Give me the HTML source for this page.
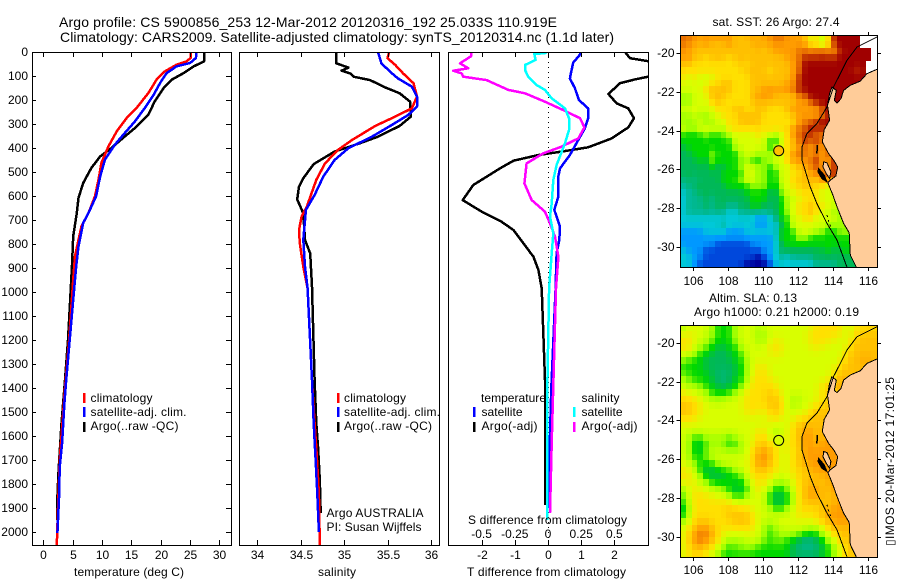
<!DOCTYPE html>
<html lang="en">
<head>
<meta charset="utf-8">
<title>Argo profile</title>
<style>
html,body{margin:0;padding:0;background:#fff;}
svg{display:block;}
text{font-family:"Liberation Sans",sans-serif;font-size:12px;fill:#000;}
.t{font-size:14px;}
</style>
</head>
<body>
<svg id="fig" xmlns="http://www.w3.org/2000/svg" width="900" height="580" viewBox="0 0 900 580">
<defs>
<clipPath id="clipT"><rect x="32" y="52" width="199" height="493"/></clipPath>
<clipPath id="clipS"><rect x="239" y="52" width="200" height="493"/></clipPath>
<clipPath id="clipD"><rect x="448" y="52" width="200" height="493"/></clipPath>
<clipPath id="clipM1"><rect x="680" y="35" width="197" height="232"/></clipPath>
<clipPath id="clipM2"><rect x="680" y="325" width="197" height="232"/></clipPath>
</defs>
<text class="t" x="59" y="27" textLength="498">Argo profile: CS 5900856_253 12-Mar-2012 20120316_192 25.033S 110.919E</text>
<text class="t" x="60" y="42" textLength="554">Climatology: CARS2009. Satellite-adjusted climatology: synTS_20120314.nc (1.1d later)</text>

<g id="marksT" clip-path="url(#clipT)"></g>
<g id="marksS" clip-path="url(#clipS)"></g>
<g id="marksD" clip-path="url(#clipD)"></g>
<g id="map1" clip-path="url(#clipM1)"></g>
<g id="map2" clip-path="url(#clipM2)"></g>
<g id="axes"></g>

<text x="74" y="576" textLength="110">temperature (deg C)</text>
<text x="318" y="576" textLength="38">salinity</text>
<text x="467" y="576" textLength="159">T difference from climatology</text>
<text x="468" y="524" textLength="159">S difference from climatology</text>

<g>
<rect x="83" y="393" width="2.5" height="10" fill="#f00"/>
<rect x="83" y="407" width="2.5" height="10" fill="#00f"/>
<rect x="83" y="422" width="2.5" height="10" fill="#000"/>
<text x="90.5" y="402" textLength="62">climatology</text>
<text x="90.5" y="416" textLength="96">satellite-adj. clim.</text>
<text x="90.5" y="430" textLength="88">Argo(..raw -QC)</text>
</g>
<g>
<rect x="337" y="393" width="2.5" height="10" fill="#f00"/>
<rect x="337" y="407" width="2.5" height="10" fill="#00f"/>
<rect x="337" y="422" width="2.5" height="10" fill="#000"/>
<text x="344" y="402" textLength="62">climatology</text>
<text x="344" y="416" textLength="96">satellite-adj. clim.</text>
<text x="344" y="430" textLength="88">Argo(..raw -QC)</text>
<text x="326.5" y="517" textLength="97">Argo AUSTRALIA</text>
<text x="326.5" y="531" textLength="95">PI: Susan Wijffels</text>
</g>
<g>
<text x="481" y="402" textLength="65">temperature</text>
<text x="581.5" y="402" textLength="38">salinity</text>
<rect x="473" y="407" width="2.5" height="10" fill="#00f"/>
<rect x="473" y="422" width="2.5" height="10" fill="#000"/>
<rect x="573" y="407" width="2.5" height="10" fill="#0ff"/>
<rect x="573" y="422" width="2.5" height="10" fill="#f0f"/>
<text x="481.5" y="416" textLength="41">satellite</text>
<text x="481.5" y="430" textLength="56">Argo(-adj)</text>
<text x="581.5" y="416" textLength="41">satellite</text>
<text x="581.5" y="430" textLength="56">Argo(-adj)</text>
</g>

<text x="712.5" y="26" textLength="127">sat. SST: 26 Argo: 27.4</text>
<text x="709" y="302" textLength="88">Altim. SLA: 0.13</text>
<text x="694" y="316" textLength="165">Argo h1000: 0.21 h2000: 0.19</text>
<text transform="translate(894,546) rotate(-90)" textLength="169">&#9647;IMOS 20-Mar-2012 17:01:25</text>
</svg>

<script>
// ---------- temperature panel data ----------
const depthArgoT = [0,39,60,88,115,150,205,261,317,358,400,435,483,546,608,671,768,880,976,1200,1367,1547,1742,1853,1950];
const tempArgo = [27.4,27.4,25.6,23.9,21.9,20.5,19,17.9,15.6,13.6,11.6,9.7,8.2,6.8,6,5.7,5.1,4.9,4.7,4.2,3.7,3.1,2.6,2.4,2.4];
const depthClimT = [0,25,39,53,81,115,171,233,275,331,393,462,532,601,671,726,782,851,949,1200,1400,1700,1900,2054];
const tempClim = [25.1,25.1,24.4,22.7,20.7,19.3,17.9,15.9,14.2,12.5,11.1,9.9,9.4,8.8,7.7,6.5,6,5.4,5.1,4.4,3.7,2.8,2.5,2.3];
const depthSatT = [0,25,46,60,88,129,178,233,289,337,386,449,518,601,671,712,810,893,976,1200,1367,1463,1630,1729,1850,2004];
const tempSat = [26.1,26,25,22.7,21,19.9,18.8,17.3,15.6,13.9,12.2,10.5,9.7,9,7.7,6.8,6,5.6,5.3,4.5,3.9,3.6,3.2,2.8,2.7,2.4];
// ---------- salinity panel data ----------
const depthArgoS = [0,47,65,78,89,103,117,147,172,207,269,308,353,378,415,467,526,561,614,672,783,839,978,1367,1547,1650,1783,1921];
const salArgo = [34.91,34.91,35.05,34.97,35.07,35.11,35.3,35.47,35.64,35.76,35.77,35.64,35.39,35.2,34.89,34.65,34.53,34.48,34.46,34.53,34.55,34.61,34.63,34.66,34.68,34.7,34.72,34.73];
const depthClimS = [0,26,54,89,130,186,235,276,308,367,408,464,533,644,686,742,797,894,985,1367,1547,1650,1838,2054];
const salClim = [35.52,35.5,35.59,35.68,35.8,35.84,35.78,35.55,35.36,35.09,34.93,34.78,34.68,34.57,34.51,34.48,34.49,34.53,34.58,34.63,34.66,34.68,34.71,34.72];
const depthSatS = [0,47,82,110,144,186,228,262,304,353,401,450,519,596,658,783,894,985,1367,1547,1690,1830,2000];
const salSat = [35.39,35.43,35.53,35.62,35.78,35.84,35.84,35.74,35.55,35.32,35.05,34.89,34.76,34.66,34.56,34.53,34.55,34.58,34.63,34.65,34.67,34.69,34.71];
// ---------- difference panel data ----------
const depthDiffSatT = [0,10,44,89,110,151,200,235,276,318,367,429,485,519,603,658,728,783,839,985,1400,1900];
const diffSatT = [0.99,0.97,0.76,0.69,0.66,0.81,0.93,1.21,1.21,1.11,0.91,0.66,0.36,0.31,0.31,0.19,0.36,0.34,0.26,0.23,0.1,0];
const depthDiffArgoT = [0,26,38,70,103,114,130,175,214,235,276,314,360,397,415,429,453,485,554,617,665,707,742,853,908,985,1367,1887];
const diffArgoT = [2.32,2.47,3,3.6,3.02,2.62,2.17,1.82,2.07,2.42,2.59,2.42,1.92,1.21,0.41,-0.29,-1.04,-1.45,-2.25,-2.57,-2,-1.4,-1.04,-0.44,-0.29,-0.19,-0.09,-0.09];
const depthDiffSatS = [0,5,8,33,54,75,103,138,158,193,235,276,325,380,471,533,631,686,756,839,985,1400,1950];
const diffSatS = [-0.01,-0.023,-0.103,-0.093,-0.173,-0.173,-0.148,-0.085,-0.023,0.028,0.128,0.158,0.158,0.128,0.065,0.04,0.028,0.015,0.04,0.028,0.008,-0.005,-0.005];
const depthDiffArgoS = [0,18,47,68,78,89,103,117,158,172,207,242,276,314,360,394,422,464,547,617,665,714,769,853,985,1630,1921];
const diffArgoS = [-0.575,-0.58,-0.663,-0.6,-0.713,-0.65,-0.638,-0.462,-0.299,-0.173,-0.023,0.115,0.241,0.274,0.228,0.103,-0.035,-0.161,-0.178,-0.123,-0.023,0.015,0.053,0.078,0.06,0.028,0.015];
// ---------- tick labels ----------
const depthTicks = [0,100,200,300,400,500,600,700,800,900,1000,1100,1200,1300,1400,1500,1600,1700,1800,1900,2000];
const tempTicks = [0,5,10,15,20,25,30];
const salTicks = [34,34.5,35,35.5,36];
const diffTTicks = [-2,-1,0,1,2];
const diffSTicks = [-0.5,-0.25,0,0.25,0.5];
const lonTicks = [106,108,110,112,114,116];
const latTicks = [-20,-22,-24,-26,-28,-30];
// ---------- map data: colour-scale level per cell, -1 = no data ----------
const levelColors = ['#00009c','#0048dc','#0098ff','#00c8d8','#00b890','#00b858','#00d800','#a0ff00','#d8ff00','#ffe000','#ffc000','#ff9c00','#e87000','#c03000','#a00000'];
const sstRows = [
[12,12,11,11,11,11,11,11,11,10,10,10,11,10,11,11,12,12,11,11,11,10,8,9,8,8,14,14,14,14,14,-1,-1,-1],
[12,11,11,10,11,10,10,10,11,10,10,10,10,11,10,11,11,11,11,11,11,11,9,9,7,9,13,14,14,14,14,-1,-1,-1],
[11,11,10,10,10,10,10,10,10,10,10,10,10,10,10,10,11,11,11,11,12,12,12,12,13,12,11,13,14,14,14,14,14,-1],
[11,11,10,10,9,10,10,10,9,10,10,10,10,10,10,10,10,10,11,11,12,13,13,13,13,13,13,14,14,14,14,14,14,-1],
[10,10,9,9,9,9,9,9,9,9,10,9,10,10,10,10,10,10,10,11,12,14,14,14,14,14,14,14,14,14,14,14,-1,-1],
[9,9,9,9,9,9,9,9,9,9,9,10,10,10,10,9,10,10,10,11,12,14,14,14,14,14,14,14,14,14,13,14,-1,-1],
[9,8,9,8,8,8,9,9,9,9,9,9,10,10,10,10,10,10,10,11,13,14,14,14,14,14,14,14,14,14,14,14,-1,-1],
[8,8,8,8,8,9,9,10,10,9,9,9,10,10,10,10,10,10,11,11,13,14,14,14,14,14,14,14,14,14,14,14,14,-1],
[8,8,8,8,9,10,10,10,10,9,9,9,10,10,11,11,11,11,11,12,13,14,14,14,14,14,14,14,14,14,14,14,14,14],
[7,7,8,8,8,10,10,10,9,9,9,9,10,11,11,11,10,10,10,10,12,12,14,14,14,14,14,14,14,14,14,14,14,14],
[7,7,8,8,8,9,10,9,9,9,9,9,10,10,10,10,10,10,10,10,11,11,12,13,14,14,14,14,14,14,14,14,14,14],
[8,8,8,8,8,8,9,9,9,10,10,9,9,10,10,9,9,9,10,11,11,11,11,11,12,14,14,14,14,14,14,14,14,14],
[7,7,8,7,7,8,8,9,9,9,10,10,10,10,9,9,9,9,9,10,11,11,11,11,12,13,14,14,14,14,14,14,14,14],
[7,7,7,8,7,7,8,8,9,9,10,10,10,10,9,9,9,9,9,9,11,12,12,13,14,14,14,14,14,14,14,14,14,14],
[8,7,7,8,8,8,8,7,9,9,9,9,9,9,9,9,9,9,9,11,12,12,14,13,13,13,13,13,13,13,13,13,13,13],
[6,6,6,6,7,6,6,7,7,8,8,8,8,9,8,8,7,8,9,11,12,13,13,12,12,12,12,12,12,12,12,12,12,12],
[6,6,6,6,6,6,6,6,6,8,8,8,8,8,8,6,6,8,9,10,12,13,12,13,12,12,12,12,12,12,12,12,12,12],
[5,6,6,6,6,6,6,6,6,7,8,8,8,8,8,6,7,8,9,10,11,12,11,12,11,12,12,12,12,12,12,12,12,12],
[5,5,6,6,6,7,6,6,6,6,7,8,8,7,7,7,8,8,9,11,12,12,11,12,11,12,13,13,13,13,13,13,13,13],
[5,5,5,6,5,7,6,6,6,6,7,7,6,6,7,7,8,8,9,11,11,11,12,13,11,11,13,13,13,13,13,13,13,13],
[5,5,5,5,5,6,5,5,6,6,7,8,8,7,7,6,7,8,8,9,10,11,11,13,11,11,13,13,13,13,13,13,13,13],
[5,5,5,5,5,5,5,6,6,6,6,8,8,7,7,6,6,8,8,9,9,10,11,11,12,13,13,13,13,13,13,13,13,13],
[4,5,4,5,5,5,5,6,6,6,7,8,8,7,7,6,6,8,8,9,10,10,10,10,11,11,11,11,11,11,11,11,11,11],
[4,4,5,5,5,5,5,5,6,6,6,6,7,7,7,6,6,7,8,9,9,10,10,9,9,8,8,8,8,8,8,8,8,8],
[3,4,4,5,5,5,5,5,5,5,5,6,6,6,6,5,5,7,8,8,9,9,9,9,8,8,8,8,8,8,8,8,8,8],
[3,4,4,4,5,4,5,5,5,5,5,5,6,6,6,5,5,6,7,8,8,9,9,9,8,8,8,7,7,7,7,7,7,7],
[3,4,4,4,5,4,5,5,4,4,5,5,6,6,5,5,5,6,7,8,9,9,10,9,9,8,8,7,7,7,7,7,7,7],
[3,4,4,4,4,4,4,4,3,3,4,4,4,4,4,4,5,6,7,8,9,9,10,9,8,8,7,7,7,7,7,7,7,7],
[3,3,3,3,3,3,3,3,3,3,3,3,3,2,2,3,4,6,6,8,8,9,9,8,8,8,8,7,7,7,7,7,7,7],
[3,3,3,3,3,3,3,4,3,3,3,3,3,2,2,3,3,5,6,8,8,8,8,8,8,7,7,7,7,7,7,7,7,7],
[2,2,2,2,3,3,3,3,2,2,2,3,3,3,3,3,3,6,6,6,8,8,8,7,7,6,6,7,7,7,7,7,7,7],
[2,2,2,2,2,2,2,2,2,2,2,2,2,2,2,2,3,6,6,6,7,7,6,6,6,6,6,6,6,6,6,6,6,6],
[2,2,2,2,2,2,1,1,1,1,1,1,2,2,2,2,3,5,6,6,6,6,6,6,6,6,6,6,6,6,6,6,6,6],
[3,2,2,2,1,1,1,1,1,1,1,1,1,1,2,2,3,5,5,5,5,5,5,5,5,6,5,5,6,6,6,6,6,6],
[3,3,2,2,1,1,1,1,1,1,1,1,1,0,1,2,3,4,3,4,4,4,4,5,5,5,5,5,5,5,5,6,6,6],
[3,3,2,1,1,1,1,1,1,1,1,0,0,0,0,1,3,3,3,3,3,3,3,4,4,4,4,5,5,5,5,5,6,6]
];
const slaRows = [
[7,8,8,8,8,7,6,6,6,7,8,8,8,7,8,8,8,8,8,8,8,8,8,9,9,9,9,9,8,8,9,9,9,9],
[8,9,8,8,8,7,6,6,6,7,8,8,8,7,7,8,8,8,8,8,8,8,9,9,9,9,9,9,8,8,9,10,10,10],
[9,9,8,8,7,7,6,6,6,7,8,8,8,7,7,8,9,8,8,8,8,8,9,9,9,9,8,8,8,9,10,10,10,10],
[9,9,8,7,7,6,5,5,6,6,7,8,8,8,8,9,9,9,8,8,8,8,8,9,8,8,8,8,8,9,10,10,10,10],
[8,8,7,6,6,5,5,5,5,6,6,8,8,8,8,8,9,8,8,8,8,8,8,8,8,8,8,8,9,10,10,10,10,10],
[7,6,6,6,5,5,5,5,5,6,6,7,8,8,8,8,8,8,8,8,8,8,8,8,8,8,8,8,9,10,10,11,11,10],
[6,6,6,6,5,5,5,5,5,5,6,7,8,9,9,8,8,8,8,8,8,8,8,8,8,8,8,9,10,10,10,10,10,10],
[7,6,6,6,6,5,5,4,5,5,6,7,8,9,9,8,8,8,8,8,8,8,8,8,8,8,9,10,10,10,10,10,10,10],
[7,7,6,6,6,5,5,4,5,6,6,7,9,9,9,9,8,8,8,8,8,8,8,8,8,8,9,10,10,10,10,10,10,10],
[8,7,7,7,6,6,5,5,5,6,6,8,9,9,9,9,9,8,8,8,8,8,8,8,9,10,10,11,11,11,11,11,11,11],
[9,8,8,8,7,6,6,6,6,7,8,9,9,9,9,10,9,8,8,8,8,8,8,8,9,9,10,10,10,10,10,10,10,10],
[9,9,9,8,8,7,7,7,8,8,8,9,9,9,9,10,10,9,8,7,7,8,8,8,9,9,9,9,9,9,9,9,9,9],
[10,10,9,9,8,8,8,8,8,8,8,9,9,9,9,10,10,9,8,7,8,8,8,9,9,10,10,10,10,10,10,10,10,10],
[10,10,9,9,8,8,8,8,8,8,8,9,9,9,8,9,10,9,8,8,8,8,9,10,10,10,10,10,10,10,10,10,10,10],
[9,9,9,8,8,8,8,8,8,8,8,8,8,8,8,9,9,8,8,8,9,9,10,10,10,10,10,10,10,10,10,10,10,10],
[8,8,8,8,8,8,8,8,8,8,8,8,8,8,8,8,8,8,8,9,10,10,10,10,10,10,10,10,10,10,10,10,10,10],
[8,8,8,8,8,8,8,8,8,8,8,8,8,9,9,8,7,8,8,9,10,11,11,10,10,11,11,11,11,11,11,11,11,11],
[8,7,6,6,7,7,7,7,6,7,8,8,8,9,9,8,7,8,8,9,10,11,11,10,10,11,11,11,11,11,11,11,11,11],
[8,7,6,5,7,7,7,7,6,6,7,8,8,10,10,9,9,8,9,9,10,11,11,10,11,11,11,11,11,11,11,11,11,11],
[8,7,6,5,7,7,8,7,7,7,7,8,9,10,11,10,9,8,8,9,9,11,11,11,11,11,11,11,11,11,11,11,11,11],
[8,7,6,6,7,8,8,8,8,8,8,8,9,11,12,10,9,8,8,9,10,11,11,11,11,11,11,11,11,11,11,11,11,11],
[8,8,7,6,6,6,7,8,8,8,8,8,9,11,11,10,9,8,8,9,10,10,11,11,11,11,11,11,11,11,11,11,11,11],
[9,8,8,6,5,5,6,6,6,7,8,8,9,10,10,9,9,8,8,9,9,10,10,11,11,11,11,11,11,11,11,11,11,11],
[9,9,8,7,6,5,5,5,6,6,6,8,9,9,9,9,8,8,8,9,9,10,10,10,10,11,11,11,11,11,11,11,11,11],
[8,9,8,8,7,6,6,6,6,6,6,7,8,9,9,8,7,7,7,8,9,10,10,10,10,10,11,11,11,11,11,11,11,11],
[7,8,9,8,8,8,7,7,6,5,5,6,8,9,8,7,6,6,7,8,9,10,11,11,10,10,11,11,11,11,11,11,11,11],
[6,8,9,9,9,8,8,8,7,6,6,7,8,8,8,6,5,5,6,7,9,10,11,11,10,10,10,11,11,11,11,11,11,11],
[6,8,9,9,9,9,9,9,9,8,8,8,8,8,8,6,5,5,6,7,9,10,10,10,10,10,10,11,11,11,11,11,11,11],
[5,7,9,9,9,9,9,9,10,9,9,9,8,8,8,7,6,6,7,8,9,9,9,9,10,10,11,11,11,11,11,11,11,11],
[5,8,9,9,9,9,9,9,10,10,10,10,9,8,8,8,8,8,8,8,9,9,9,9,10,11,11,11,11,11,11,11,11,11],
[7,8,9,10,10,9,9,9,9,10,10,10,9,8,8,7,8,8,8,8,8,8,8,9,9,10,11,11,11,11,11,11,11,11],
[8,9,10,11,11,10,9,9,9,9,9,9,9,8,7,6,7,8,8,8,8,8,7,7,8,9,10,10,10,10,10,10,10,10],
[8,9,11,12,12,11,9,8,8,8,8,8,8,8,7,6,7,7,7,7,7,6,6,6,7,8,9,10,10,10,10,10,10,10],
[8,10,11,12,11,10,9,8,7,7,7,8,8,8,7,6,7,7,6,6,5,4,4,5,6,7,8,9,10,10,10,10,10,10],
[8,9,10,11,10,9,8,7,6,7,7,7,7,6,6,6,6,6,6,5,4,4,4,4,5,6,7,8,9,10,10,10,10,10],
[8,9,9,9,8,8,7,6,6,6,6,6,6,6,6,6,6,6,6,5,5,5,5,5,6,6,7,8,9,10,10,10,10,10]
];
// ---------- coast geography (degrees) ----------
const landLon = [116.6,115.96,115.58,115.01,114.63,114.48,114.25,114.10,114.21,113.96,113.83,113.71,113.83,113.52,113.41,113.77,114.06,114.29,114.19,113.87,113.73,114.02,114.25,114.63,114.95,115.01,115.35,115.4,116.6];
const landLat = [-20.81,-21.06,-21.44,-21.66,-21.92,-22.35,-22.57,-22.44,-21.92,-21.75,-22.09,-22.69,-23.46,-23.95,-24.58,-25.18,-25.52,-25.87,-26.33,-26.55,-26.69,-27.32,-27.92,-28.78,-29.26,-30.41,-31.03,-31.2,-31.2];
const shelfLon = [116.6,115.96,115.39,114.82,114.44,114.06,113.68,113.10,112.53,112.25,112.25,112.72,113.10,113.68,114.25,114.82];
const shelfLat = [-19.14,-19.43,-19.69,-20.38,-21.06,-21.72,-22.78,-23.64,-24.15,-24.84,-25.52,-26.90,-27.75,-28.78,-29.64,-31.03];
const peronLon = [113.49,113.68,113.90,113.83,113.64,113.45];
const peronLat = [-25.61,-25.66,-26.12,-26.47,-26.21,-25.87];
const hartogLon = [113.2,113.52,113.68,113.39,113.16];
const hartogLat = [-25.95,-26.29,-26.64,-26.47,-26.12];
const bernierLon = [113.14,113.10];
const bernierLat = [-24.75,-25.18];
const abrolhosLon = [113.68,113.75,113.85,113.92];
const abrolhosLat = [-28.35,-28.6,-28.85,-29.05];
const floatLon = 110.919;
const floatLat = -25.033;

// ---------- scales ----------
const yDepth = d => 52 + 0.24 * d;
const xTemp = t => 43.3 + 5.87 * t;
const xSal = s => 257.3 + 86.8 * (s - 34);
const xDiffT = t => 548 + 33.2 * t;
const xDiffS = s => 548 + 132.8 * s;
const xLon = lon => 680 + (lon - 105.28) * 17.5;
const yLat1 = lat => 35.3 + (-19.08 - lat) * 19.39;
const yLat2 = lat => 325 + (-19.08 - lat) * 19.39;

const NS = 'http://www.w3.org/2000/svg';
function make(tag, parent, attrs) {
  const el = document.createElementNS(NS, tag);
  for (const k in attrs) el.setAttribute(k, attrs[k]);
  parent.appendChild(el);
  return el;
}
function pathFrom(xs, ys, xf, yf) {
  return xs.map((v, i) => (i ? 'L' : 'M') + xf(v).toFixed(1) + ' ' + yf(ys[i]).toFixed(1)).join('');
}
function drawLine(parent, name, values, depths, xf, color) {
  const el = make('path', parent, {d: pathFrom(values, depths, xf, yDepth), fill: 'none', stroke: color, 'stroke-width': 2.5, 'stroke-linejoin': 'round', 'shape-rendering': 'crispEdges'});
  
  
}
const marksT = document.getElementById('marksT');
const marksS = document.getElementById('marksS');
const marksD = document.getElementById('marksD');
drawLine(marksT, 'temperature-argo-line', tempArgo, depthArgoT, xTemp, '#000');
drawLine(marksT, 'temperature-climatology-line', tempClim, depthClimT, xTemp, '#f00');
drawLine(marksT, 'temperature-satellite-line', tempSat, depthSatT, xTemp, '#00f');
drawLine(marksS, 'salinity-argo-line', salArgo, depthArgoS, xSal, '#000');
drawLine(marksS, 'salinity-climatology-line', salClim, depthClimS, xSal, '#f00');
drawLine(marksS, 'salinity-satellite-line', salSat, depthSatS, xSal, '#00f');
const zero = make('line', marksD, {x1: 548.5, x2: 548.5, y1: 52, y2: 545, stroke: '#000', 'stroke-dasharray': '1 4', 'stroke-width': 1, 'shape-rendering': 'crispEdges'});


drawLine(marksD, 'difference-t-argo-line', diffArgoT, depthDiffArgoT, xDiffT, '#000');
drawLine(marksD, 'difference-t-satellite-line', diffSatT, depthDiffSatT, xDiffT, '#00f');
drawLine(marksD, 'difference-s-argo-line', diffArgoS, depthDiffArgoS, xDiffS, '#f0f');
drawLine(marksD, 'difference-s-satellite-line', diffSatS, depthDiffSatS, xDiffS, '#0ff');

// ---------- axes ----------
const axes = document.getElementById('axes');
function frame(name, x, y, w, h) {
  const el = make('rect', axes, {x: x + 0.5, y: y + 0.5, width: w, height: h, fill: 'none', stroke: '#000', 'stroke-width': 1.2, 'shape-rendering': 'crispEdges'});
  
  
}
function tick(name, x1, y1, x2, y2) {
  const el = make('line', axes, {x1: x1, y1: y1, x2: x2, y2: y2, stroke: '#000', 'stroke-width': 1, 'shape-rendering': 'crispEdges'});
  
  
}
function label(name, x, y, str, anchor) {
  const el = make('text', axes, {x: x, y: y, 'text-anchor': anchor});
  el.textContent = str;
  
  
}
frame('temperature-panel-frame', 32, 52, 199, 493);
frame('salinity-panel-frame', 239, 52, 200, 493);
frame('difference-panel-frame', 448, 52, 200, 493);
frame('sst-map-frame', 680, 35, 197, 232);
frame('sla-map-frame', 680, 325, 197, 232);

depthTicks.forEach(d => {
  const y = Math.round(yDepth(d)) + 0.5;
  tick('depth-tick-left', 32, y, 36, y);
  tick('depth-tick-right', 226, y, 231, y);
  label('depth-tick-label', 28, y + 3.5, String(d), 'end');
});
tempTicks.forEach(t => {
  const x = Math.round(xTemp(t)) + 0.5;
  tick('temperature-tick-top', x, 52, x, 57);
  tick('temperature-tick-bottom', x, 540, x, 545);
  label('temperature-tick-label', x, 559, String(t), 'middle');
});
salTicks.forEach(s => {
  const x = Math.round(xSal(s)) + 0.5;
  tick('salinity-tick-top', x, 52, x, 57);
  tick('salinity-tick-bottom', x, 540, x, 545);
  label('salinity-tick-label', x, 559, String(s), 'middle');
});
diffTTicks.forEach(t => {
  const x = Math.round(xDiffT(t)) + 0.5;
  tick('t-difference-tick-top', x, 52, x, 57);
  tick('t-difference-tick-bottom', x, 540, x, 545);
  label('t-difference-tick-label', x, 559, String(t), 'middle');
});
diffSTicks.forEach(s => {
  label('s-difference-tick-label', xDiffS(s), 538, String(s), 'middle');
});

// ---------- maps ----------
function levelColor(level) {
  const lo = Math.max(0, Math.min(levelColors.length - 1, Math.floor(level)));
  const hi = Math.min(levelColors.length - 1, lo + 1);
  const f = Math.max(0, Math.min(1, level - lo));
  const a = levelColors[lo], b = levelColors[hi];
  const chan = i => {
    const va = parseInt(a.substr(1 + i * 2, 2), 16), vb = parseInt(b.substr(1 + i * 2, 2), 16);
    return Math.round(va + (vb - va) * f);
  };
  return 'rgb(' + chan(0) + ',' + chan(1) + ',' + chan(2) + ')';
}
// display level: each cell softened with its neighbours, as the gridded product appears
function displayLevel(rows, r, c, edge, corner) {
  let sum = rows[r][c], wt = 1;
  [[-1,0,edge],[1,0,edge],[0,-1,edge],[0,1,edge],[-1,-1,corner],[-1,1,corner],[1,-1,corner],[1,1,corner]].forEach(n => {
    const row = rows[r + n[0]];
    const v = row ? row[c + n[1]] : undefined;
    if (v !== undefined && v >= 0) { sum += v * n[2]; wt += n[2]; }
  });
  return sum / wt;
}
function drawMap(parent, rows, yLat, prefix, top, dotFill, edge, corner) {
  const cw = 197.3 / 34, ch = 231.7 / 36;
  const bg = make('rect', parent, {x: 680, y: top, width: 197, height: 232, fill: '#ffcc99'});
  
  
  rows.forEach((row, r) => {
    row.forEach((lvl, c) => {
      const x = Math.round(680 + c * cw), y = Math.round(top + r * ch);
      const x2 = Math.round(680 + (c + 1) * cw), y2 = Math.round(top + (r + 1) * ch);
      const cell = make('rect', parent, {x: x, y: y, width: x2 - x, height: y2 - y, fill: lvl < 0 ? '#fff' : levelColor(displayLevel(rows, r, c, edge, corner)), 'shape-rendering': 'crispEdges'});
      
      
    });
  });
  const land = make('path', parent, {d: pathFrom(landLon, landLat, xLon, yLat) + 'Z', fill: '#ffcc99', stroke: '#000', 'stroke-width': 1, 'shape-rendering': 'crispEdges'});
  
  
  const shelf = make('path', parent, {d: pathFrom(shelfLon, shelfLat, xLon, yLat), fill: 'none', stroke: '#000', 'stroke-width': 1, 'shape-rendering': 'crispEdges'});
  
  
  const peron = make('path', parent, {d: pathFrom(peronLon, peronLat, xLon, yLat) + 'Z', fill: '#ffcc99', stroke: '#000', 'stroke-width': 1, 'shape-rendering': 'crispEdges'});
  
  
  const hartog = make('path', parent, {d: pathFrom(hartogLon, hartogLat, xLon, yLat) + 'Z', fill: '#000', stroke: '#000', 'stroke-width': 1, 'shape-rendering': 'crispEdges'});
  
  
  const bernier = make('path', parent, {d: pathFrom(bernierLon, bernierLat, xLon, yLat), fill: 'none', stroke: '#000', 'stroke-width': 1.5, 'shape-rendering': 'crispEdges'});
  
  
  const abrolhos = make('path', parent, {d: pathFrom(abrolhosLon, abrolhosLat, xLon, yLat), fill: 'none', stroke: '#000', 'stroke-width': 1, 'stroke-dasharray': '2 3', 'shape-rendering': 'crispEdges'});
  
  
  const dot = make('circle', parent, {cx: xLon(floatLon), cy: yLat(floatLat), r: 5, fill: dotFill, stroke: '#000', 'stroke-width': 1});
  
  
}
drawMap(document.getElementById('map1'), sstRows, yLat1, 'sst-map', 35, '#ffc000', 0.3, 0);
drawMap(document.getElementById('map2'), slaRows, yLat2, 'sla-map', 325, '#d8ff00', 0.5, 0.25);

function mapAxes(yLat, top, labelY) {
  lonTicks.forEach(lon => {
    const x = Math.round(xLon(lon)) + 0.5;
    tick('map-tick-top', x, top - 3, x, top);
    tick('map-tick-bottom', x, top + 232, x, top + 236);
    label('map-longitude-label', x, labelY, String(lon), 'middle');
  });
  latTicks.forEach(lat => {
    const y = Math.round(yLat(lat)) + 0.5;
    tick('map-tick-left', 676.5, y, 680, y);
    tick('map-tick-right', 877, y, 881, y);
    label('map-latitude-label', 674.5, y + 3.5, String(lat), 'end');
  });
}
mapAxes(yLat1, 35, 285);
mapAxes(yLat2, 325, 574);
</script>
</body>
</html>
